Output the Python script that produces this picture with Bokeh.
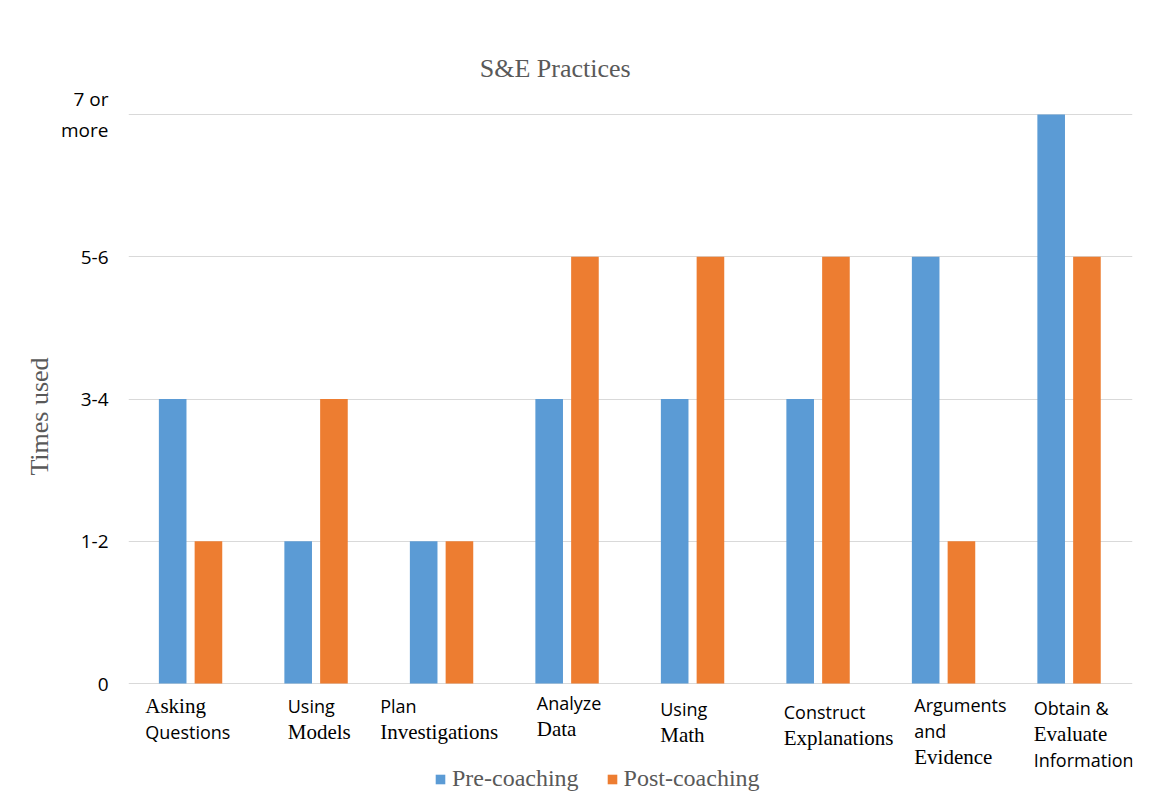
from bokeh.plotting import figure
from bokeh.models import (ColumnDataSource, Range1d, FactorRange, Legend, LegendItem, FixedTicker)
from bokeh.core.properties import value
from bokeh.transform import dodge
from bokeh.embed import file_html
from bokeh.resources import INLINE

# ---- data ----
categories = ["Asking Questions", "Using Models", "Plan Investigations", "Analyze Data",
              "Using Math", "Construct Explanations", "Arguments and Evidence",
              "Obtain & Evaluate Information"]
pre_coaching = [2, 1, 1, 2, 2, 2, 3, 4]
post_coaching = [1, 2, 1, 3, 3, 3, 1, 3]
y_tick_values = [0, 1, 2, 3, 4]
y_tick_labels = ["0", "1-2", "3-4", "5-6", "7 or\nmore"]
label_lines = [["Asking", "Questions"], ["Using", "Models"], ["Plan", "Investigations"],
               ["Analyze", "Data"], ["Using", "Math"], ["Construct", "Explanations"],
               ["Arguments", "and", "Evidence"], ["Obtain &", "Evaluate", "Information"]]
label_serif = [[1, 0], [0, 1], [0, 1], [0, 1], [0, 1], [0, 1], [0, 0, 1], [0, 1, 0]]
title_text = "S&E Practices"
y_title = "Times used"

# ---- styles / layout ----
BLUE = "#5B9BD5"
ORANGE = "#ED7D31"
GRAY_TXT = "#595959"
GRID = "#d9d9d9"
SERIF = "Liberation Serif"
SANS = "Open Sans"

W, H = 1150, 796
LEFT, RIGHT_EDGE, TOP = 128, 1132, 36
ZERO_PX, FOUR_PX = 683, 114
PX_PER_UNIT = (ZERO_PX - FOUR_PX) / 4.0
# per-category label block shift (screen px) relative to the category centre
label_dx = [-46, -29, -62, -31, -33, -35, -30, -36]
label_dy = [0, 0, 0, -3, 3, 6, -1, 2]
LINE_GAP = 26
FIRST_LINE = 22

src = ColumnDataSource(dict(cat=categories, pre=pre_coaching, post=post_coaching))

p = figure(width=W, height=H, x_range=FactorRange(*categories),
           y_range=Range1d((ZERO_PX - H) / PX_PER_UNIT, (ZERO_PX - TOP) / PX_PER_UNIT),
           output_backend="svg", toolbar_location=None, x_axis_location=None,
           min_border_left=LEFT, min_border_right=W - RIGHT_EDGE,
           min_border_top=TOP, min_border_bottom=0)
p.outline_line_color = None
p.background_fill_color = "white"
p.border_fill_color = "white"

r_pre = p.vbar(x=dodge("cat", -0.148, range=p.x_range), top="pre", width=0.22, source=src,
               fill_color=BLUE, line_color=None)
r_post = p.vbar(x=dodge("cat", 0.137, range=p.x_range), top="post", width=0.22, source=src,
                fill_color=ORANGE, line_color=None)

p.xgrid.grid_line_color = None
p.ygrid.ticker = FixedTicker(ticks=y_tick_values)
p.ygrid.grid_line_color = GRID
p.ygrid.grid_line_width = 1
p.ygrid.level = "underlay"

# y axis
p.yaxis.ticker = FixedTicker(ticks=y_tick_values)
p.yaxis.major_label_overrides = {v: t for v, t in zip(y_tick_values, y_tick_labels)}
p.yaxis.axis_line_color = None
p.yaxis.major_tick_line_color = None
p.yaxis.minor_tick_line_color = None
p.yaxis.major_label_standoff = 14
p.yaxis.major_label_text_font = SANS
p.yaxis.major_label_text_font_size = "19px"
p.yaxis.major_label_text_color = "black"
p.yaxis.axis_label = y_title
p.yaxis.axis_label_text_font = SERIF
p.yaxis.axis_label_text_font_size = "26px"
p.yaxis.axis_label_text_font_style = "normal"
p.yaxis.axis_label_text_color = GRAY_TXT
p.yaxis.axis_label_standoff = 4

# category labels (mixed fonts per line), drawn under the zero line
lx, lt, lf, ls, lo, lxo = [], [], [], [], [], []
for cat, lines, serif, dx, dy in zip(categories, label_lines, label_serif, label_dx, label_dy):
    for i, (txt, s) in enumerate(zip(lines, serif)):
        lx.append(cat)
        lt.append(txt)
        lf.append(SERIF if s else SANS)
        ls.append("21px" if s else "18px")
        lo.append(FIRST_LINE + dy + LINE_GAP * i)
        lxo.append(dx)
lab_src = ColumnDataSource(dict(x=lx, y=[0] * len(lx), text=lt, font=lf, size=ls, off=lo, xo=lxo))
p.text(x="x", y="y", text="text", source=lab_src, text_font="font", text_font_size="size",
       x_offset="xo", y_offset="off", text_color="black", text_align="left",
       text_baseline="alphabetic")

# chart title
p.text(x=[3.40], y=[4], text=[title_text], y_offset=68 - FOUR_PX,
       text_font=value(SERIF), text_font_size="26px", text_color=GRAY_TXT,
       text_align="center", text_baseline="alphabetic")

legend = Legend(items=[LegendItem(label="Pre-coaching", renderers=[r_pre]),
                       LegendItem(label="Post-coaching", renderers=[r_post])],
                orientation="horizontal", location=(306, 4),
                glyph_width=12, glyph_height=12, label_standoff=6, spacing=27,
                padding=0, margin=0, border_line_color=None, background_fill_alpha=0,
                label_text_font=SERIF, label_text_font_size="24px",
                label_text_color=GRAY_TXT)
p.add_layout(legend, "center")

open("out.html", "w").write(file_html(p, INLINE))
